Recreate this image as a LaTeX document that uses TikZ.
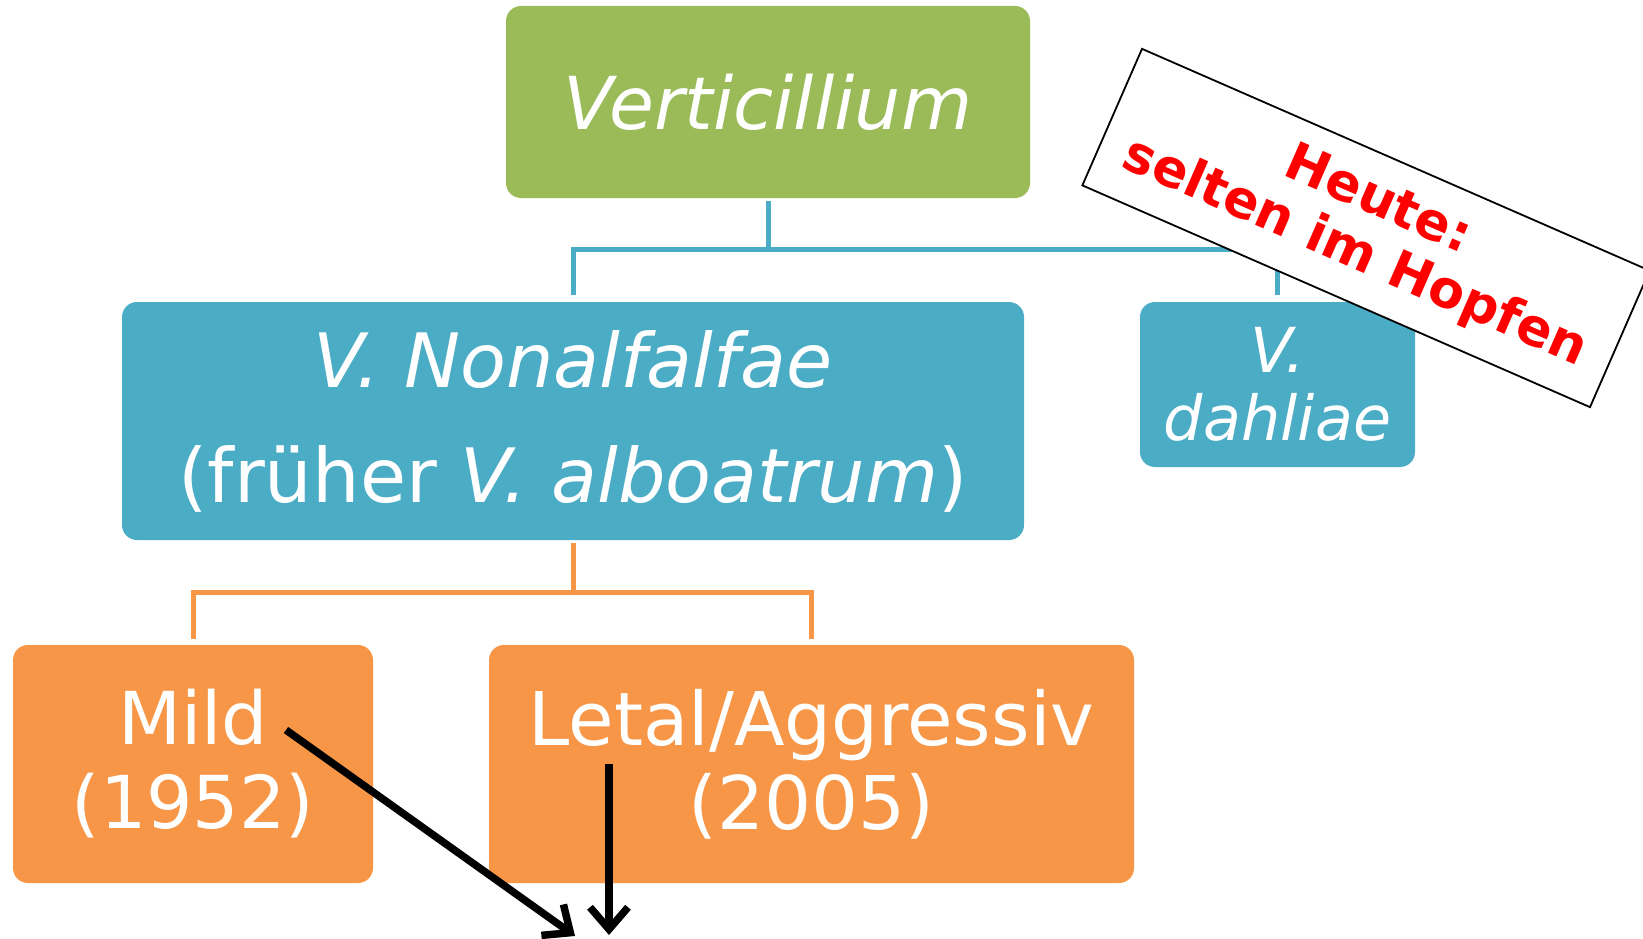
\documentclass[tikz,border=0pt]{standalone}
\usepackage{fontspec}
\setmainfont{DejaVu Sans}
\usepackage{tikz}
\usetikzlibrary{arrows.meta}

\definecolor{vgreen}{HTML}{9BBB59}
\definecolor{vblue}{HTML}{4BACC6}
\definecolor{vorange}{HTML}{F79646}

\tikzset{
  box/.style={rounded corners=15pt,text=white,align=center,inner sep=0pt},
  blueline/.style={draw=vblue,line width=5pt},
  orangeline/.style={draw=vorange,line width=5pt},
  pfeil/.style={line width=7.5pt,-{Straight Barb[length=22pt,width=38pt]}}
}

\begin{document}
\begin{tikzpicture}[x=1pt,y=-1pt]
\useasboundingbox (0,0) rectangle (1643,939);

% boxes
\node[box,fill=vgreen,minimum width=524pt,minimum height=192pt,
  font=\fontsize{73}{86}\selectfont] (verti) at (768,102) {\textit{Verticillium}};
\node[box,fill=vblue,minimum width=902pt,minimum height=238pt,
  font=\fontsize{75}{115}\selectfont] (nonalf) at (573,421)
  {\textit{V.\ Nonalfalfae}\\(früher \textit{V.\ alboatrum})};
\node[box,fill=vblue,minimum width=275pt,minimum height=165pt,
  font=\fontsize{62}{68}\selectfont] (dahl) at (1277.5,384.5) {\textit{V.}\\\textit{dahliae}};
\node[box,fill=vorange,minimum width=360pt,minimum height=238pt,
  font=\fontsize{73}{84}\selectfont] (mild) at (193,764) {Mild\\(1952)};
\node[box,fill=vorange,minimum width=645pt,minimum height=238pt,
  font=\fontsize{74}{84}\selectfont] (letal) at (811.5,764) {Letal/Aggressiv\\(2005)};

% connectors
\coordinate (vsplit) at (768,249);
\coordinate (osplit) at (573,592);
\draw[blueline] ([yshift=-3pt]verti.south) -- (vsplit);
\draw[blueline] ([yshift=7pt]nonalf.north) |- (vsplit) -| ([yshift=7pt]dahl.north);
\draw[orangeline] ([yshift=-3pt]nonalf.south) -- (osplit);
\draw[orangeline] ([yshift=6pt]mild.north) |- (osplit) -| ([yshift=6pt]letal.north);

% arrows
\coordinate (mildtail) at (286,730);
\coordinate (mildtip) at (575,936);
\coordinate (letaltail) at (609,764);
\coordinate (letaltip) at (609,935);
\draw[pfeil] (mildtail) -- (mildtip);
\draw[pfeil] (letaltail) -- (letaltip);

% note
\node[draw=black,line width=1.8pt,fill=white,rotate=-23.6,
  minimum width=554pt,minimum height=149pt,align=center,text=red,
  font=\bfseries\fontsize{52}{57}\selectfont] (heute) at (1366,228)
  {Heute:\\selten im Hopfen};
\end{tikzpicture}
\end{document}
